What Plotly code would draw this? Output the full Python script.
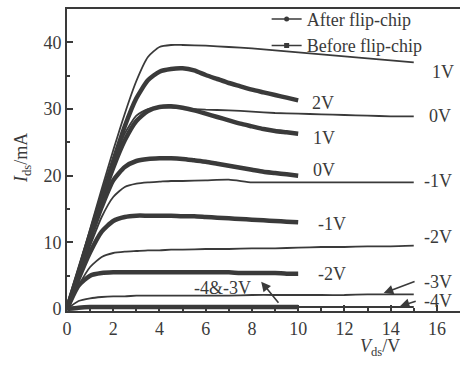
import plotly.graph_objects as go

# ---- data ----
vds_before = [0, 0.5, 1, 1.5, 2, 2.5, 3, 3.5, 4, 4.5, 5, 6, 7, 8, 9, 10, 11, 12, 13, 14, 15]
before_1V = [0, 6.0, 12.0, 18.0, 23.8, 29.3, 34.2, 37.8, 39.3, 39.6, 39.6, 39.5, 39.3, 39.1, 38.8, 38.5, 38.2, 37.9, 37.6, 37.3, 37.0]
before_0V = [0, 5.8, 11.5, 17.0, 22.0, 26.3, 29.0, 30.0, 30.2, 30.2, 30.1, 29.9, 29.8, 29.6, 29.4, 29.3, 29.2, 29.1, 29.0, 28.9, 28.9]
before_m1V = [0, 4.8, 9.5, 13.8, 16.8, 18.3, 18.8, 19.0, 19.1, 19.2, 19.2, 19.3, 19.4, 19.0, 19.0, 19.0, 19.0, 19.0, 19.0, 19.0, 19.0]
before_m2V = [0, 3.5, 6.3, 7.8, 8.4, 8.6, 8.7, 8.8, 8.8, 8.9, 8.9, 9.0, 9.0, 9.1, 9.1, 9.2, 9.3, 9.3, 9.4, 9.4, 9.5]
before_m3V = [0, 1.2, 1.6, 1.8, 1.9, 1.9, 2.0, 2.0, 2.0, 2.0, 2.0, 2.0, 2.0, 2.1, 2.1, 2.1, 2.1, 2.1, 2.2, 2.2, 2.2]
before_m4V = [0, 0.2, 0.3, 0.3, 0.3, 0.3, 0.3, 0.3, 0.3, 0.3, 0.3, 0.3, 0.3, 0.3, 0.3, 0.3, 0.3, 0.3, 0.3, 0.3, 0.3]

vds_after = [0, 0.5, 1, 1.5, 2, 2.5, 3, 3.5, 4, 4.5, 5, 5.5, 6, 6.5, 7, 7.5, 8, 8.5, 9, 9.5, 10]
after_2V = [0, 5.6, 11.2, 16.8, 22.2, 27.4, 31.6, 34.3, 35.6, 36.0, 36.1, 35.8, 35.1, 34.5, 33.9, 33.4, 32.9, 32.5, 32.1, 31.7, 31.3]
after_1V = [0, 5.5, 11.0, 16.3, 21.2, 25.3, 28.2, 29.7, 30.3, 30.4, 30.2, 29.8, 29.3, 28.8, 28.3, 27.8, 27.4, 27.0, 26.7, 26.5, 26.3]
after_0V = [0, 5.3, 10.5, 15.3, 19.3, 21.3, 22.2, 22.5, 22.6, 22.6, 22.5, 22.3, 22.1, 21.8, 21.5, 21.2, 20.9, 20.6, 20.4, 20.2, 20.0]
after_m1V = [0, 4.5, 8.5, 11.6, 13.2, 13.8, 14.0, 14.0, 14.0, 14.0, 13.9, 13.9, 13.8, 13.7, 13.6, 13.5, 13.4, 13.3, 13.2, 13.1, 13.0]
after_m2V = [0, 3.5, 5.0, 5.4, 5.5, 5.5, 5.5, 5.5, 5.5, 5.5, 5.5, 5.5, 5.5, 5.5, 5.5, 5.4, 5.4, 5.4, 5.4, 5.3, 5.3]
after_m4m3V = [0, 0.2, 0.3, 0.3, 0.3, 0.3, 0.3, 0.3, 0.3, 0.3, 0.3, 0.3, 0.3, 0.3, 0.3, 0.3, 0.3, 0.3, 0.3, 0.3, 0.3]

before_curves = [before_1V, before_0V, before_m1V, before_m2V, before_m3V, before_m4V]
after_curves = [after_2V, after_1V, after_0V, after_m1V, after_m2V, after_m4m3V]

before_labels = ["1V", "0V", "-1V", "-2V", "-3V", "-4V"]
after_labels = ["2V", "1V", "0V", "-1V", "-2V", "-4&-3V"]
legend_names = ["After flip-chip", "Before flip-chip"]

x_ticks = [0, 2, 4, 6, 8, 10, 12, 14, 16]
y_ticks = [0, 10, 20, 30, 40]

# ---- styling ----
INK = "#3a3a3a"
FONT = "Liberation Serif"

fig = go.Figure()

for ys in before_curves:
    fig.add_trace(go.Scatter(x=vds_before, y=ys, mode="lines", showlegend=False,
                             line=dict(color=INK, width=1.8, shape="spline", smoothing=0.6),
                             hoverinfo="skip"))
for ys in after_curves:
    fig.add_trace(go.Scatter(x=vds_after, y=ys, mode="lines", showlegend=False,
                             line=dict(color=INK, width=4.5, shape="spline", smoothing=0.6),
                             hoverinfo="skip"))

# legend entries
fig.add_trace(go.Scatter(x=[None], y=[None], mode="lines+markers", name=legend_names[0],
                         line=dict(color=INK, width=1.5),
                         marker=dict(symbol="circle", size=5, color=INK)))
fig.add_trace(go.Scatter(x=[None], y=[None], mode="lines+markers", name=legend_names[1],
                         line=dict(color=INK, width=1.5),
                         marker=dict(symbol="square", size=5, color=INK)))

ann = []
before_label_pos = [(15.7, 35.6), (15.57, 28.9), (15.35, 19.15), (15.35, 10.85), (15.35, 4.0), (15.35, 1.25)]
for t, (x, y) in zip(before_labels, before_label_pos):
    ann.append(dict(x=x, y=y, text=t, showarrow=False, xanchor="left", yanchor="middle",
                    font=dict(family=FONT, size=18, color=INK)))
after_label_pos = [(10.5, 30.9), (10.57, 25.6), (10.57, 20.9), (10.75, 12.7), (10.75, 5.2), (6.72, 3.2)]
for t, (x, y) in zip(after_labels, after_label_pos):
    ann.append(dict(x=x, y=y, text=t, showarrow=False,
                    xanchor="center" if t == "-4&-3V" else "left", yanchor="middle",
                    font=dict(family=FONT, size=18, color=INK)))
arrows = [((13.7, 2.4), (15.1, 4.2)), ((14.4, 0.4), (15.15, 1.25)), ((8.4, 4.1), (9.2, 0.7))]
for (hx, hy), (tx, ty) in arrows:
    ann.append(dict(x=hx, y=hy, ax=tx, ay=ty, xref="x", yref="y", axref="x", ayref="y",
                    text="", showarrow=True, arrowhead=2, arrowsize=1.2, arrowwidth=1.6,
                    arrowcolor=INK))
ann.append(dict(x=(380 - 67) / 393, y=-(347 - 311) / 302, xref="paper", yref="paper",
                text="<i>V</i><sub>ds</sub>/V", showarrow=False,
                xanchor="center", yanchor="middle",
                font=dict(family=FONT, size=18, color=INK)))
ann.append(dict(x=-(67 - 22) / 393, y=(311 - 158) / 302, xref="paper", yref="paper",
                text="<i>I</i><sub>ds</sub>/mA", showarrow=False, textangle=-90,
                xanchor="center", yanchor="middle",
                font=dict(family=FONT, size=18, color=INK)))

fig.update_xaxes(range=[0, 17], tickvals=x_ticks, ticks="inside", ticklen=6, tickwidth=1.5,
                 tickcolor=INK, showline=True, linecolor=INK, linewidth=2, mirror=True,
                 showgrid=False, zeroline=False, automargin=False,
                 minor=dict(dtick=1, ticks="inside", ticklen=3, tickcolor=INK, showgrid=False),
                 tickfont=dict(family=FONT, size=18, color=INK))
fig.update_yaxes(range=[-0.3, 45], tickvals=y_ticks, ticks="inside", ticklen=6, tickwidth=1.5,
                 tickcolor=INK, showline=True, linecolor=INK, linewidth=2,
                 showgrid=False, zeroline=False, automargin=False,
                 minor=dict(dtick=5, ticks="inside", ticklen=3, tickcolor=INK, showgrid=False),
                 tickfont=dict(family=FONT, size=18, color=INK))

fig.update_layout(
    width=460, height=365,
    margin=dict(l=67, r=0, t=9, b=54, autoexpand=False),
    plot_bgcolor="white", paper_bgcolor="white",
    font=dict(family=FONT, size=18, color=INK),
    annotations=ann,
    legend=dict(x=0.508, y=1.027, xanchor="left", yanchor="top", bgcolor="rgba(0,0,0,0)",
                font=dict(family=FONT, size=18, color=INK), itemwidth=30,
                tracegroupgap=0, borderwidth=0),
    showlegend=True,
)

fig.write_html("out.html", config={"displayModeBar": False},
               post_script="document.body.style.margin='0';document.body.style.padding='0';")
